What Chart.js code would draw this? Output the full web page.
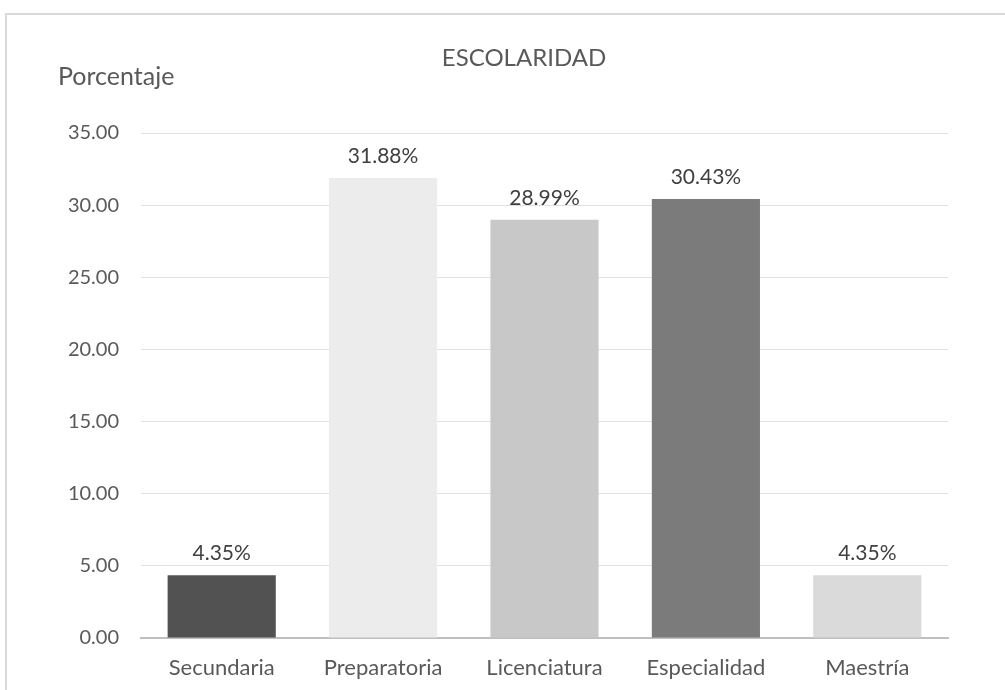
<!DOCTYPE html>
<html>
<head>
<meta charset="utf-8">
<script src="https://cdn.jsdelivr.net/npm/chart.js@4.4.1/dist/chart.umd.min.js"></script>
<style>
  html, body { margin: 0; padding: 0; background: #fff; overflow: hidden; }
  #frame { position: absolute; left: 5px; top: 13px; width: 1100px; height: 800px; border: 2px solid #d9d9d9; box-sizing: border-box; }
  #wrap { position: absolute; left: 0; top: 0; width: 1005px; height: 690px; }
</style>
</head>
<body>
<div id="frame"></div>
<div id="wrap"><canvas id="chart" width="1005" height="690"></canvas></div>
<script>
// datos
const categories = ['Secundaria', 'Preparatoria', 'Licenciatura', 'Especialidad', 'Maestría'];
const values = [4.35, 31.88, 28.99, 30.43, 4.35];
const barColors = ['#525252', '#ececec', '#c8c8c8', '#7b7b7b', '#dadada'];
const chartTitle = 'ESCOLARIDAD';
const yTitle = 'Porcentaje';

const FONT = 'Lato, "Open Sans", sans-serif';

const labelsPlugin = {
  id: 'labelsPlugin',
  afterDatasetsDraw(chart) {
    const ctx = chart.ctx;
    ctx.save();
    ctx.fillStyle = '#404040';
    ctx.font = '21px ' + FONT;
    ctx.textAlign = 'center';
    ctx.textBaseline = 'alphabetic';
    chart.getDatasetMeta(0).data.forEach((bar, i) => {
      ctx.fillText(values[i].toFixed(2) + '%', bar.x, bar.y - 15);
    });
    // titulo
    ctx.fillStyle = '#595959';
    ctx.font = '24px ' + FONT;
    ctx.fillText(chartTitle, 524, 66);
    ctx.font = '25px ' + FONT;
    ctx.textAlign = 'left';
    ctx.fillText(yTitle, 58, 85);
    ctx.restore();
  }
};

new Chart(document.getElementById('chart'), {
  type: 'bar',
  data: {
    labels: categories,
    datasets: [{
      data: values,
      backgroundColor: barColors,
      borderWidth: 0,
      barPercentage: 0.67,
      categoryPercentage: 1.0
    }]
  },
  options: {
    responsive: false,
    animation: false,
    layout: { padding: { top: 133, right: 57, bottom: 0, left: 0 } },
    plugins: { legend: { display: false }, tooltip: { enabled: false }, title: { display: false } },
    scales: {
      x: {
        grid: { display: false, drawTicks: false },
        border: { display: true, color: '#bfbfbf', width: 2 },
        ticks: { color: '#595959', font: { family: FONT, size: 22 }, padding: 17, maxRotation: 0 },
        afterFit(s) { s.height = 52; }
      },
      y: {
        min: 0, max: 35,
        ticks: {
          stepSize: 5, color: '#595959', font: { family: FONT, size: 20 }, padding: 22,
          callback: (v) => v.toFixed(2)
        },
        grid: { color: '#e0e0e0', lineWidth: 1, drawTicks: false },
        border: { display: false },
        afterFit(s) { s.width = 141; }
      }
    }
  },
  plugins: [labelsPlugin]
});
</script>
</body>
</html>
